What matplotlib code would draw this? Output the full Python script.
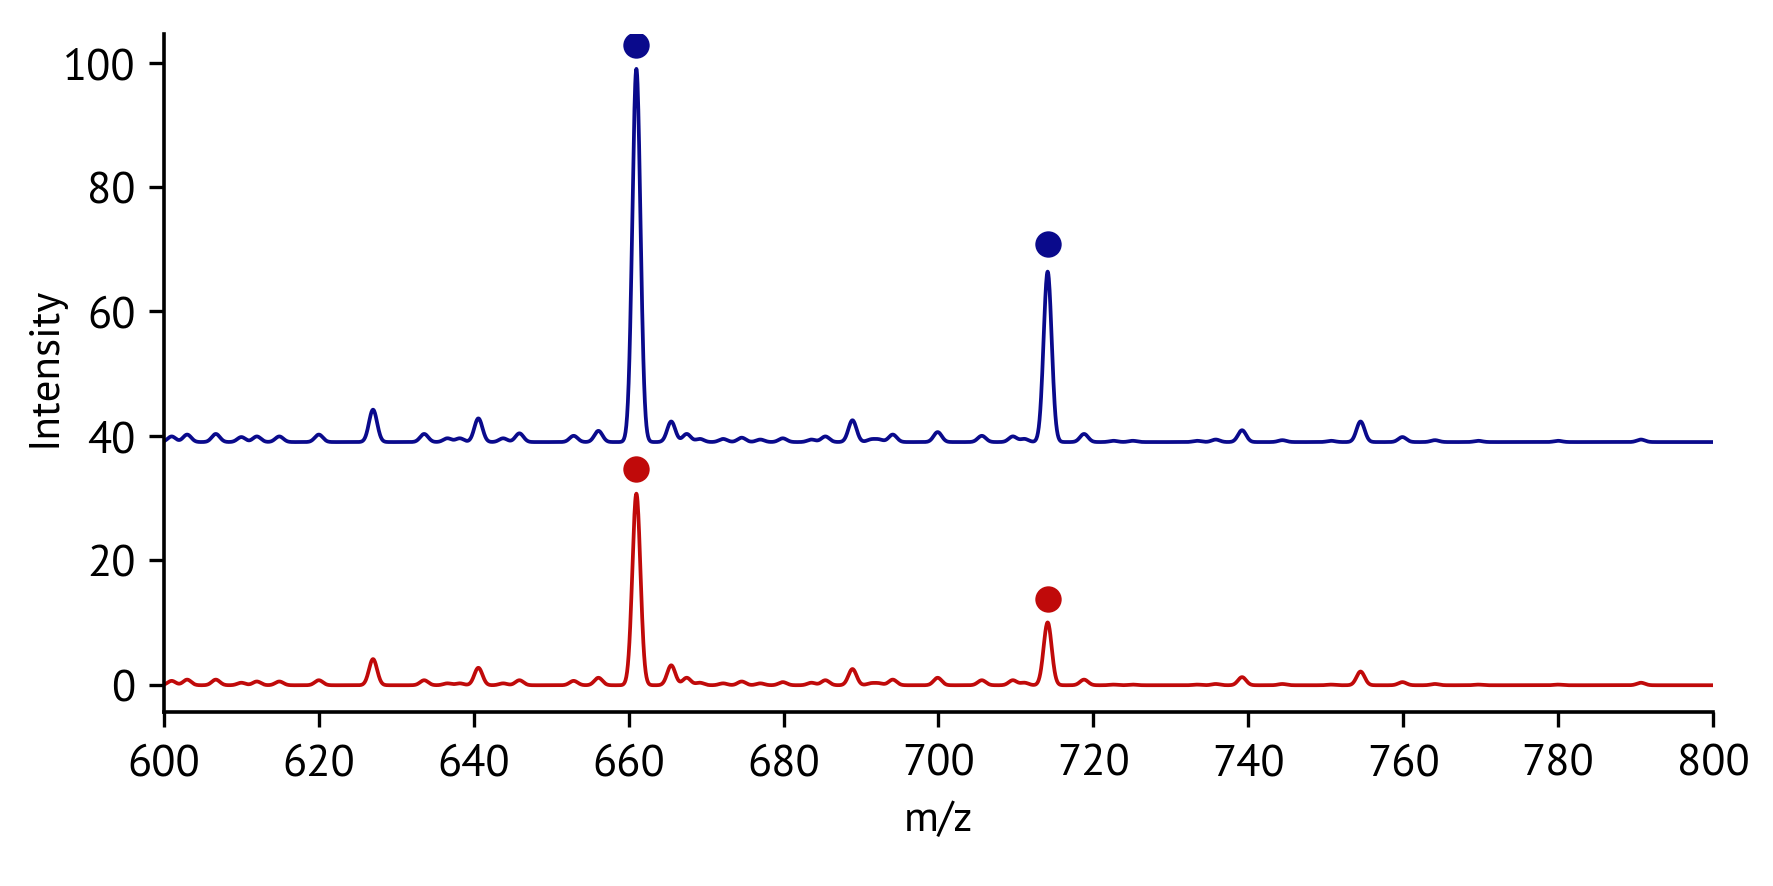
import matplotlib
matplotlib.use("Agg")
import matplotlib.pyplot as plt
from matplotlib import font_manager
import numpy as np


def pick_font():
    # Myriad-like humanist sans in regular weight
    for want in ("Source Sans Pro", "Source Sans 3", "PT Sans"):
        for f in font_manager.fontManager.ttflist:
            if f.name == want and f.weight in (400, "normal", "regular") and f.style == "normal":
                return font_manager.FontProperties(fname=f.fname)
    return font_manager.FontProperties(family="Liberation Sans")


# peak list: m/z, height above baseline (upper = blue, lower = red)
PEAK_MZ = [601.0, 603.0, 606.7, 610.0, 612.0, 614.9, 620.0, 627.0, 633.6, 636.6,
           638.2, 640.6, 643.8, 645.9, 652.9, 656.1, 661.0, 665.5, 667.5, 669.2,
           672.2, 674.6, 677.0, 679.9, 683.6, 685.4, 688.9, 691.3, 692.3, 694.1,
           699.9, 705.6, 709.6, 711.1, 714.1, 718.8, 722.6, 725.1, 733.4, 735.8,
           739.2, 744.4, 750.7, 754.5, 759.9, 764.1, 769.7, 780.0, 790.7]
BLUE_HEIGHT = [0.9, 1.2, 1.3, 0.8, 0.9, 0.9, 1.2, 5.2, 1.3, 0.6,
               0.6, 3.8, 0.6, 1.4, 1.0, 1.8, 60.0, 3.3, 1.3, 0.5,
               0.5, 0.7, 0.4, 0.6, 0.4, 0.9, 3.5, 0.4, 0.4, 1.2,
               1.6, 1.0, 0.9, 0.5, 27.4, 1.3, 0.2, 0.2, 0.2, 0.4,
               1.9, 0.3, 0.2, 3.3, 0.8, 0.3, 0.2, 0.2, 0.4]
RED_HEIGHT = [0.7, 0.9, 0.9, 0.4, 0.6, 0.6, 0.8, 4.2, 0.8, 0.3,
              0.3, 2.8, 0.3, 0.8, 0.7, 1.2, 30.8, 3.2, 1.2, 0.4,
              0.3, 0.6, 0.3, 0.5, 0.4, 0.8, 2.6, 0.3, 0.3, 0.9,
              1.2, 0.8, 0.8, 0.4, 10.1, 0.9, 0.1, 0.1, 0.1, 0.2,
              1.3, 0.2, 0.1, 2.2, 0.5, 0.2, 0.1, 0.1, 0.4]
BLUE_BASELINE = 39.0
RED_BASELINE = -0.1

# marked peaks (dots above the two main ions)
MARK_MZ = [661.0, 714.1]
BLUE_MARK = [102.9, 70.8]
RED_MARK = [34.6, 13.8]

BLUE = "#0a0a8c"
RED = "#c00a0a"
PEAK_SIGMA = 0.52


def spectrum(mz, baseline, heights):
    y = np.full_like(mz, baseline)
    for c, h in zip(PEAK_MZ, heights):
        y += h * np.exp(-0.5 * ((mz - c) / PEAK_SIGMA) ** 2)
    return y


tick_fp = pick_font()
tick_fp.set_size(32)
label_fp = tick_fp.copy()
label_fp.set_size(31)

mz = np.linspace(600, 800, 4001)

fig = plt.figure(figsize=(17.74, 8.87), dpi=100)
ax = fig.add_axes([0.0924, 0.1962, 0.8732, 0.7643])

ax.plot(mz, spectrum(mz, BLUE_BASELINE, BLUE_HEIGHT), color=BLUE, lw=2.7)
ax.plot(mz, spectrum(mz, RED_BASELINE, RED_HEIGHT), color=RED, lw=2.7)
ax.plot(MARK_MZ, BLUE_MARK, "o", color=BLUE, ms=19, mec="none")
ax.plot(MARK_MZ, RED_MARK, "o", color=RED, ms=19, mec="none")

ax.set_xlim(600, 800)
ax.set_ylim(-4.4, 104.6)
ax.set_xticks(np.arange(600, 801, 20))
ax.set_yticks(np.arange(0, 101, 20))
ax.tick_params(width=2.4, length=11)
ax.tick_params(axis="y", pad=9.5)
ax.tick_params(axis="x", pad=12)
for lbl in ax.get_xticklabels() + ax.get_yticklabels():
    lbl.set_fontproperties(tick_fp)
for side in ("top", "right"):
    ax.spines[side].set_visible(False)
for side in ("left", "bottom"):
    ax.spines[side].set_linewidth(2.6)

ax.set_xlabel("m/z", fontproperties=label_fp)
ax.set_ylabel("Intensity", fontproperties=label_fp)
ax.xaxis.set_label_coords(0.5, -0.158)
ax.xaxis.label.set_verticalalignment("center")
ax.yaxis.set_label_coords(-0.077, 0.51)
ax.yaxis.label.set_verticalalignment("center")

fig.savefig("out.png", dpi=100, facecolor="white")
